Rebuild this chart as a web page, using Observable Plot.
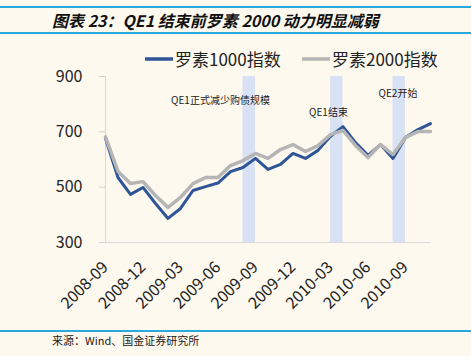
<!DOCTYPE html>
<html>
<head>
<meta charset="utf-8">
<script src="https://cdn.jsdelivr.net/npm/d3@7"></script>
<script src="https://cdn.jsdelivr.net/npm/@observablehq/plot@0.6"></script>
<style>
  html, body { margin: 0; padding: 0; background: #fdf9ef; }
  #wrap { position: relative; width: 471px; height: 356px; overflow: hidden; background: #fdf9ef; font-family: "Noto Sans CJK SC", "Noto Sans", sans-serif; }
  #chart { position: absolute; left: 0; top: 0; }
  .hline { position: absolute; left: 0; width: 471px; height: 2px; background: #2ba8de; }
  #title { position: absolute; left: 52px; top: 9px; font-size: 16px; font-weight: bold; font-style: italic; color: #111; line-height: 22px; white-space: nowrap; }
  #legend { position: absolute; top: 48px; left: 145px; font-size: 17px; color: #222; white-space: nowrap; line-height: 22px; }
  #legend span.item { position: absolute; top: 0; display: flex; align-items: center; }
  #legend svg { margin-right: 2px; }
  #footer { position: absolute; left: 52px; top: 332px; font-size: 11px; color: #222; line-height: 16px; white-space: nowrap; }
</style>
</head>
<body>
<div id="wrap">
  <div class="hline" style="top:6px"></div>
  <div id="title">图表 23：QE1 结束前罗素 2000 动力明显减弱</div>
  <div class="hline" style="top:32px"></div>
  <div id="chart"></div>
  <div id="legend"></div>
  <div class="hline" style="top:330px"></div>
  <div id="footer">来源：Wind、国金证券研究所</div>
</div>
<script>
// ---- data ----
const months = ["2008-09","2008-10","2008-11","2008-12","2009-01","2009-02","2009-03","2009-04","2009-05","2009-06","2009-07","2009-08","2009-09","2009-10","2009-11","2009-12","2010-01","2010-02","2010-03","2010-04","2010-05","2010-06","2010-07","2010-08","2010-09","2010-10","2010-11"];
const russell1000 = [676, 535, 474, 499, 441, 387, 423, 488, 502, 515, 556, 571, 604, 564, 582, 622, 604, 633, 684, 719, 661, 615, 654, 604, 680, 708, 730];
const russell2000 = [682, 557, 513, 520, 470, 427, 463, 513, 535, 535, 578, 596, 622, 604, 636, 654, 629, 650, 690, 705, 651, 607, 654, 618, 680, 701, 701];
const seriesNames = ["罗素1000指数", "罗素2000指数"];
const seriesColors = ["#2e5597", "#b5b5b5"];
const bandStarts = ["2009-08", "2010-03", "2010-08"];
const tickMonths = ["2008-09","2008-12","2009-03","2009-06","2009-09","2009-12","2010-03","2010-06","2010-09"];
const yTicks = [300, 500, 700, 900];
const notes = [
  {text: "QE1正式减少购债规模", month: "2009-06", dx: 0.2, value: 813},
  {text: "QE1结束", month: "2010-02", dx: 0.84, value: 770},
  {text: "QE2开始", month: "2010-08", dx: 0.4, value: 839}
];

// ---- build tables ----
const idx = m => months.indexOf(m);
const rows1 = months.map((m, i) => ({i, v: russell1000[i]}));
const rows2 = months.map((m, i) => ({i, v: russell2000[i]}));
const bands = bandStarts.map(m => ({x1: idx(m), x2: idx(m) + 1}));
const noteRows = notes.map(n => ({text: n.text, x: idx(n.month) + n.dx, y: n.value}));

const chart = Plot.plot({
  width: 471,
  height: 356,
  marginLeft: 105,
  marginRight: 41,
  marginTop: 76,
  marginBottom: 114,
  style: {background: "transparent", fontFamily: "'Noto Sans CJK SC', 'Noto Sans', sans-serif", color: "#222"},
  x: {domain: [0, months.length - 1], axis: null},
  y: {domain: [300, 900], axis: null},
  marks: [
    Plot.rect(bands, {x1: "x1", x2: "x2", y1: 300, y2: 900, fill: "#d9e1f4"}),
    Plot.ruleY([300], {stroke: "#d9d9d9", strokeWidth: 1}),
    Plot.ruleX([0], {stroke: "#d9d9d9", strokeWidth: 1}),
    Plot.axisY({ticks: yTicks, tickSize: 6, tickPadding: 17, stroke: "#d0d0d0", fill: "#222", fontSize: 16}),
    Plot.axisX({ticks: tickMonths.map(idx), tickFormat: i => months[i], tickRotate: -45, tickSize: 0, tickPadding: 22, fill: "#222", fontSize: 16}),
    Plot.line(rows1, {x: "i", y: "v", stroke: seriesColors[0], strokeWidth: 3}),
    Plot.line(rows2, {x: "i", y: "v", stroke: seriesColors[1], strokeWidth: 3.5}),
    Plot.text(noteRows, {x: "x", y: "y", text: "text", fontSize: 10, fill: "#222"})
  ]
});
document.getElementById("chart").appendChild(chart);

// ---- legend ----
const legend = document.getElementById("legend");
const legendX = [0, 157];
seriesNames.forEach((name, k) => {
  const item = document.createElement("span");
  item.className = "item";
  item.style.left = legendX[k] + "px";
  item.innerHTML = `<svg width="28" height="10"><line x1="0" y1="5" x2="28" y2="5" stroke="${seriesColors[k]}" stroke-width="3.5"/></svg>${name}`;
  legend.appendChild(item);
});
</script>
</body>
</html>
